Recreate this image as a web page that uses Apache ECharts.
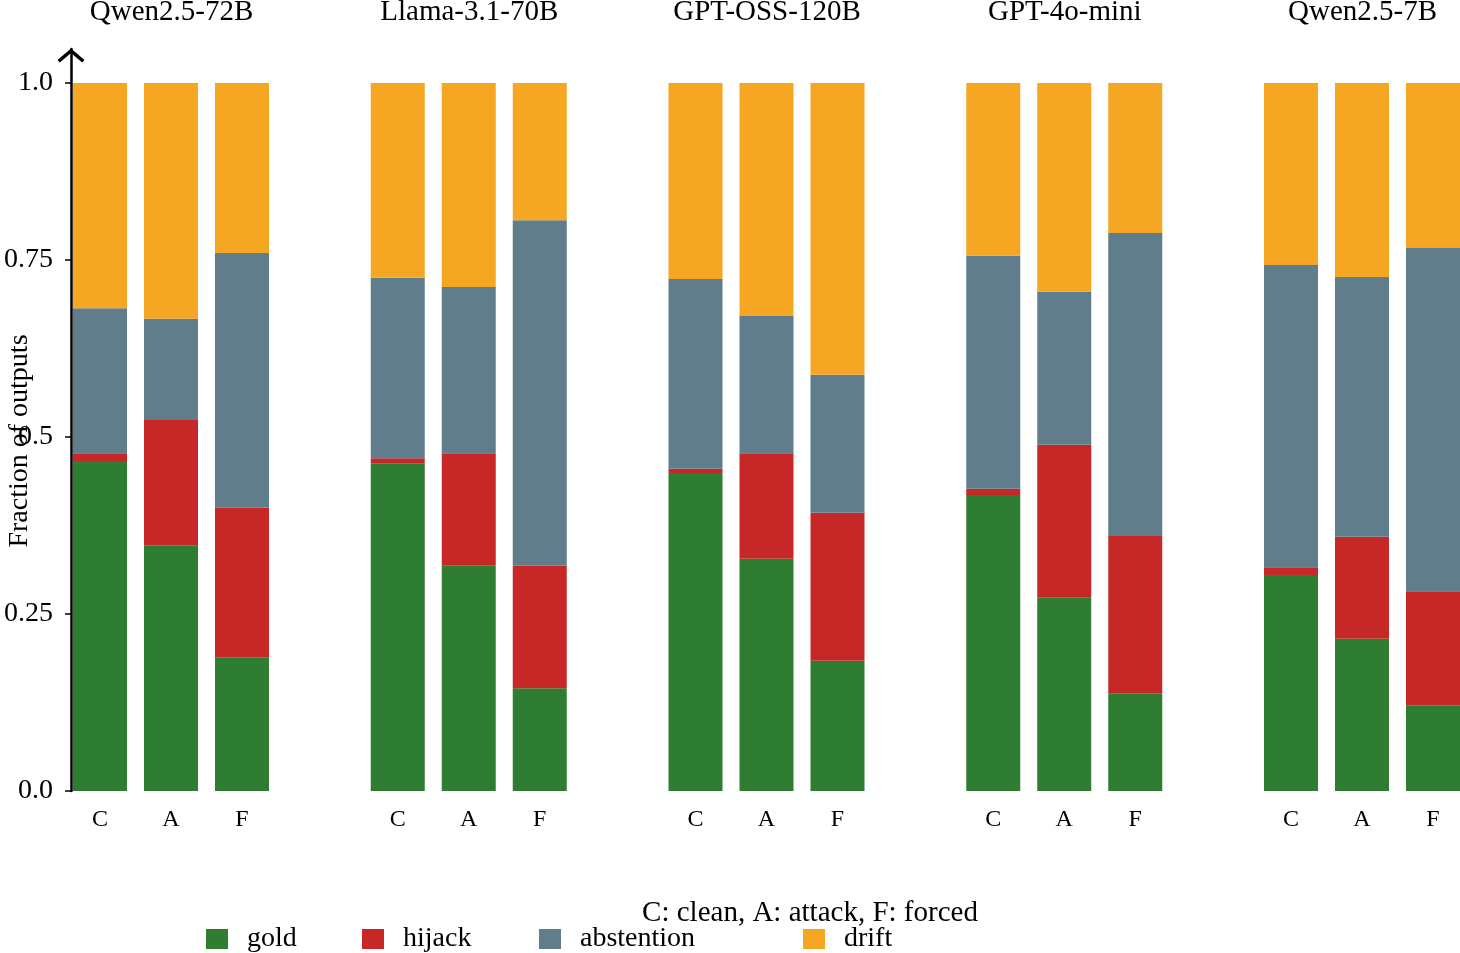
<!DOCTYPE html>
<html>
<head>
<meta charset="utf-8">
<script src="https://cdn.jsdelivr.net/npm/echarts@6/dist/echarts.min.js"></script>
<style>
  html, body { margin: 0; padding: 0; background: #fff; }
  #chart { width: 1460px; height: 953px; }
</style>
</head>
<body>
<div id="chart"></div>
<script>
// models and conditions
var models = ['Qwen2.5-72B', 'Llama-3.1-70B', 'GPT-OSS-120B', 'GPT-4o-mini', 'Qwen2.5-7B'];
var conds = ['C', 'A', 'F'];
var yTickLabels = {'0': '0.0', '0.25': '0.25', '0.5': '0.5', '0.75': '0.75', '1': '1.0'};

// segment shares per model, in order C, A, F
var gold = [
    [0.466, 0.347, 0.189],
    [0.463, 0.318, 0.145],
    [0.449, 0.328, 0.184],
    [0.418, 0.273, 0.138],
    [0.305, 0.215, 0.121]
];
var hijack = [
    [0.011, 0.177, 0.211],
    [0.007, 0.159, 0.173],
    [0.006, 0.149, 0.209],
    [0.009, 0.216, 0.222],
    [0.011, 0.144, 0.161]
];
var abstention = [
    [0.205, 0.143, 0.360],
    [0.255, 0.235, 0.488],
    [0.268, 0.194, 0.195],
    [0.329, 0.216, 0.428],
    [0.427, 0.367, 0.485]
];
var drift = [
    [0.318, 0.333, 0.240],
    [0.275, 0.288, 0.194],
    [0.277, 0.329, 0.412],
    [0.244, 0.295, 0.212],
    [0.257, 0.274, 0.233]
];

var FONT = 'Liberation Serif';
var layers = [
    {name: 'gold', data: gold, color: '#2e7d32'},
    {name: 'hijack', data: hijack, color: '#c62828'},
    {name: 'abstention', data: abstention, color: '#607d8b'},
    {name: 'drift', data: drift, color: '#f5a623'}
];

var grids = [], xAxes = [], yAxes = [], series = [], titles = [];
var pitch = 297.75;

for (var i = 0; i < models.length; i++) {
    // grid spans from the C bar centre to the F bar centre
    var left = 100 + i * pitch;
    grids.push({left: left, top: 83, width: 142, height: 708});
    xAxes.push({
        type: 'category', gridIndex: i, data: conds, boundaryGap: false,
        axisLine: {show: false}, axisTick: {show: false},
        axisLabel: {fontFamily: FONT, fontSize: 24, color: '#000', margin: 17}
    });
    yAxes.push({
        type: 'value', gridIndex: i, min: 0, max: 1, show: false
    });
    titles.push({
        text: models[i], left: left + 66.5, top: -7, textAlign: 'center',
        textStyle: {fontFamily: FONT, fontSize: 29, fontWeight: 'normal', color: '#000'}
    });
    layers.forEach(function (l) {
        series.push({
            name: l.name, type: 'bar', stack: 'm' + i,
            xAxisIndex: i, yAxisIndex: i,
            barWidth: 54,
            itemStyle: {color: l.color},
            emphasis: {disabled: true},
            data: l.data[i]
        });
    });
}

// separate grid that only carries the y axis with the arrow
var ai = models.length;
grids.push({left: 71, top: 49, width: 10, height: 742});
xAxes.push({type: 'value', gridIndex: ai, min: 0, max: 1, show: false});
yAxes.push({
    type: 'value', gridIndex: ai, min: 0, max: 742 / 708, interval: 0.25,
    name: 'Fraction of outputs', nameLocation: 'middle', nameRotate: 90, nameGap: 37,
    nameMoveOverlap: false,
    nameTextStyle: {fontFamily: FONT, fontSize: 28, color: '#000', padding: [0, 42, 0, 0]},
    splitLine: {show: false},
    axisLine: {
        show: true, onZero: false,
        lineStyle: {color: '#000', width: 2.5},
        symbol: ['none', 'path://M0,12 L14,0 L28,12 L25.6,14.6 L14,4.6 L2.4,14.6 Z'],
        symbolSize: [27, 15],
        symbolOffset: [0, -6.5]
    },
    axisTick: {show: true, length: 6, lineStyle: {color: '#000', width: 1.5}},
    axisLabel: {
        fontFamily: FONT, fontSize: 28, color: '#000', margin: 18, showMaxLabel: false,
        formatter: function (v) {
            var k = String(Math.round(v * 100) / 100);
            return yTickLabels[k] !== undefined ? yTickLabels[k] : '';
        }
    }
});

titles.push({
    text: 'C: clean, A: attack, F: forced', left: 805, top: 894, textAlign: 'center',
    textStyle: {fontFamily: FONT, fontSize: 29, fontWeight: 'normal', color: '#000'}
});

// one legend per entry to match the uneven spacing
var legendLefts = [201, 357, 534, 798];
var legends = layers.map(function (l, k) {
    return {
        data: [l.name], left: legendLefts[k], top: 920,
        icon: 'rect', itemWidth: 22, itemHeight: 20,
        selectedMode: false,
        textStyle: {fontFamily: FONT, fontSize: 28, color: '#000', padding: [0, 0, 0, 14]}
    };
});

var myChart = echarts.init(document.getElementById('chart'));
myChart.setOption({
    animation: false,
    backgroundColor: '#fff',
    title: titles,
    legend: legends,
    grid: grids,
    xAxis: xAxes,
    yAxis: yAxes,
    series: series
});
</script>
</body>
</html>
